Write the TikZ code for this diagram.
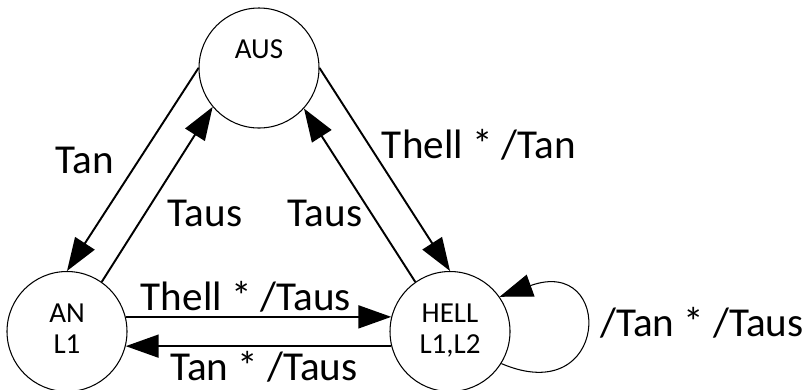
\documentclass[tikz,border=0pt]{standalone}
\usepackage{fontspec}
\setmainfont{Carlito}
\usetikzlibrary{arrows.meta}

\newcommand{\statefont}{\fontsize{16.5pt}{18pt}\selectfont}
\newcommand{\twolines}[2]{{\statefont\begin{tabular}{@{}c@{}}#1\\#2\end{tabular}}}

\begin{document}
\begin{tikzpicture}[
    stnode/.style={draw, circle, line width=0.6pt, minimum size=2.4cm, inner sep=0pt},
    trans/.style={line width=1.1pt, -{Triangle[length=6.6mm, width=4.6mm]}},
    lbl/.style={font=\fontsize{23.4}{27}\selectfont, inner sep=0pt}
]
\useasboundingbox (0,0) rectangle (16.12,7.78);

% States
\node[stnode] (aus)  at (5.18,6.42) {\twolines{AUS}{\mbox{}}};
\node[stnode] (an)   at (1.34,1.15) {\twolines{AN}{L1}};
\node[stnode] (hell) at (9.00,1.15) {\twolines{HELL}{L1,L2}};

% AUS <-> AN
\draw[trans] (aus.180) -- (an.90);
\draw[trans] (an.55) -- (aus.220);
\node[lbl] (tan)   at (1.70,4.58) {Tan};
\node[lbl] (taus1) at (4.10,3.52) {Taus};

% AUS <-> HELL
\draw[trans] (aus.0) -- (hell.90);
\draw[trans] (hell.125) -- (aus.318);
\node[lbl] (thelltan) at (9.58,4.88) {Thell * /Tan};
\node[lbl] (taus2)    at (6.50,3.52) {Taus};

% AN <-> HELL
\draw[trans] (an.14) -- (hell.166);
\draw[trans] (hell.194) -- (an.-14);
\node[lbl] (thelltaus) at (4.92,1.84) {Thell * /Taus};
\node[lbl] (tantaus)   at (5.28,0.44) {Tan * /Taus};

% HELL self loop
\draw[trans, line width=0.6pt] (hell.-32) .. controls (12.2,-0.42) and (12.3,2.68) .. (hell.35);
\node[lbl] (loop) at (14.04,1.32) {/Tan * /Taus};

\end{tikzpicture}
\end{document}
